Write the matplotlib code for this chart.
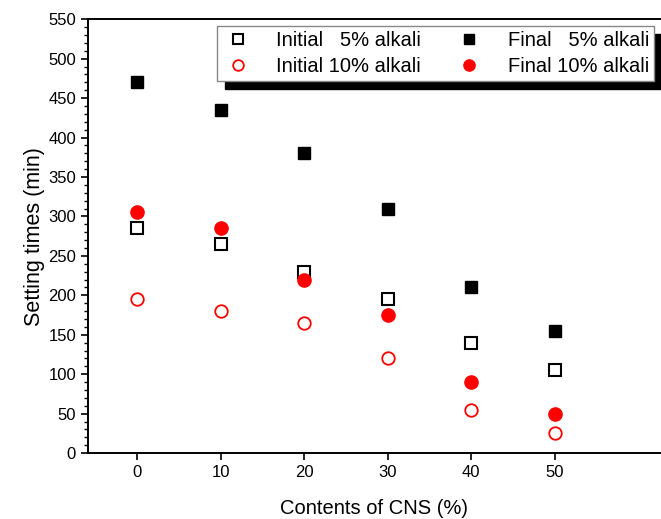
import matplotlib.pyplot as plt
from matplotlib.ticker import MultipleLocator

plt.rcParams['font.family'] = ['Liberation Sans', 'DejaVu Sans']

# Data
cns = [0, 10, 20, 30, 40, 50]
initial_5 = [285, 265, 230, 195, 140, 105]
final_5 = [470, 435, 380, 310, 210, 155]
initial_10 = [195, 180, 165, 120, 55, 25]
final_10 = [305, 285, 220, 175, 90, 50]

fig = plt.figure(figsize=(6.61, 5.19), dpi=100)
ax = fig.add_axes([0.133, 0.127, 0.867, 0.836])

ax.plot(cns, initial_5, 's', ms=8, mfc='white', mec='black', mew=1.5,
        ls='none', label='Initial   5% alkali')
ax.plot(cns, initial_10, 'o', ms=9, mfc='white', mec='red', mew=1.3,
        ls='none', label='Initial 10% alkali')
ax.plot(cns, final_5, 's', ms=8, mfc='black', mec='black',
        ls='none', label='Final   5% alkali')
ax.plot(cns, final_10, 'o', ms=9.5, mfc='red', mec='red',
        ls='none', label='Final 10% alkali')

ax.set_xlim(-5.9, 62.7)
ax.set_ylim(0, 550)
ax.set_xticks(cns)
ax.yaxis.set_major_locator(MultipleLocator(50))
ax.yaxis.set_minor_locator(MultipleLocator(10))
ax.tick_params(axis='both', which='major', direction='out', length=5,
               width=1.2, labelsize=12)
ax.tick_params(axis='y', which='minor', direction='out', length=3, width=1)
ax.spines['right'].set_visible(False)
for s in ['left', 'bottom', 'top']:
    ax.spines[s].set_linewidth(1.4)

ax.set_xlabel('Contents of CNS (%)', fontsize=14.5, labelpad=14)
ax.set_ylabel('Setting times (min)', fontsize=15.5, labelpad=2)

leg = ax.legend(ncol=2, loc='upper left', bbox_to_anchor=(0.225, 0.985),
                fontsize=14.5, fancybox=False, edgecolor='#888888',
                framealpha=1, handletextpad=1.1, columnspacing=1.6,
                borderaxespad=0, borderpad=0.25, labelspacing=0.35,
                handlelength=1.6, markerscale=0.85,
                shadow={'color': 'black', 'alpha': 1, 'ox': 6, 'oy': -6})
leg.get_frame().set_linewidth(1)

fig.savefig('out.png', dpi=100)
